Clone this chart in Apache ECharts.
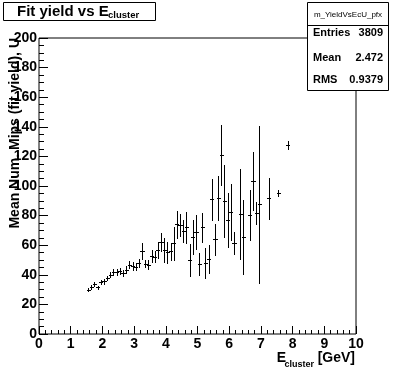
<!DOCTYPE html>
<html>
<head>
<meta charset="utf-8">
<script src="https://cdn.jsdelivr.net/npm/echarts@6/dist/echarts.min.js"></script>
<style>
html,body{margin:0;padding:0;background:#fff;}
#chart{width:396px;height:372px;}
</style>
</head>
<body>
<div id="chart"></div>
<script>
// ---- data ----
var binCenters = [1.55,1.65,1.75,1.85,1.95,2.05,2.15,2.25,2.35,2.45,2.55,2.65,2.75,2.85,2.95,3.05,3.15,3.25,3.35,3.45,3.55,3.65,3.75,3.85,3.95,4.05,4.15,4.25,4.35,4.45,4.55,4.65,4.75,4.85,4.95,5.05,5.15,5.25,5.35,5.45,5.55,5.65,5.75,5.85,5.95,6.05,6.15,6.35,6.45,6.65,6.75,6.85,6.95,7.25,7.55,7.85];
var meanValues = [30,32,34,31.5,35,35.5,38,40,41.7,41.7,42.8,41.4,43.5,46.8,46,45.5,48,56,47.5,46.8,52.7,52.3,56.8,62,56.8,55.3,55.8,61.3,74,73.6,69.4,72,50,65.8,68.7,47.3,72,47.8,50.5,91,64,91.7,121,89.9,77,82.2,61.3,80.9,65.3,80.2,103.3,81.5,87.6,91.7,95,127.7];
var errValues = [1,1.3,1.3,1.2,1.5,1.5,1.5,1.8,2,2,2,2,2.5,2.5,2.5,2.5,2.5,5.5,2.5,3,4,3.5,5.5,6,8,7,6,11,9,7.5,7.5,10.5,10.5,11.5,11.5,7.5,10,10,9.5,14,10.5,15,20.5,24.5,18,19,7.5,30.5,25,17,19.5,7.5,53,14,2,3];
var binHalfWidth = 0.05;
var xTicks = [0,1,2,3,4,5,6,7,8,9,10];
var yTicks = [0,20,40,60,80,100,120,140,160,180,200];
var statNames = ['Entries','Mean','RMS'];
var statValues = ['3809','2.472','0.9379'];
var histName = 'm_YieldVsEcU_pfx';

var seriesData = binCenters.map(function(x,i){ return [x, meanValues[i], errValues[i]]; });

var FONT = '"Liberation Sans", Arial, Helvetica, sans-serif';
var chart = echarts.init(document.getElementById('chart'), null, {renderer:'canvas'});

function snap(v){ return Math.round(v) + 0.5; }

var option = {
  backgroundColor: '#fff',
  animation: false,
  grid: {left:39, top:38, right:40, bottom:38, show:true, borderColor:'#000', borderWidth:1, backgroundColor:'transparent', containLabel:false, outerBoundsMode:'none'},
  xAxis: {
    type:'value', min:xTicks[0], max:xTicks[xTicks.length-1], interval:1,
    axisLine:{show:false},
    axisTick:{show:true, inside:true, length:8, lineStyle:{color:'#000', width:1}},
    minorTick:{show:true, splitNumber:5, length:4, lineStyle:{color:'#000', width:1}},
    splitLine:{show:false}, minorSplitLine:{show:false},
    axisLabel:{show:true, color:'#000', fontFamily:FONT, fontWeight:'bold', fontSize:14, margin:3, showMinLabel:true, showMaxLabel:true}
  },
  yAxis: {
    type:'value', min:yTicks[0], max:yTicks[yTicks.length-1], interval:20,
    axisLine:{show:false},
    axisTick:{show:true, inside:true, length:9, lineStyle:{color:'#000', width:1}},
    minorTick:{show:true, splitNumber:4, length:5, lineStyle:{color:'#000', width:1}},
    splitLine:{show:false}, minorSplitLine:{show:false},
    axisLabel:{show:true, color:'#000', fontFamily:FONT, fontWeight:'bold', fontSize:14, margin:2, showMinLabel:true, showMaxLabel:true}
  },
  series: [{
    type:'custom',
    data: seriesData,
    renderItem: function(params, api){
      var x = api.value(0), y = api.value(1), e = api.value(2);
      var pl = api.coord([x - binHalfWidth, y]);
      var pr = api.coord([x + binHalfWidth, y]);
      var pt = api.coord([x, y + e]);
      var pb = api.coord([x, y - e]);
      var cx = snap(pt[0]), cy = snap(pl[1]);
      return {
        type:'group',
        children:[
          {type:'line', shape:{x1:Math.round(pl[0]), y1:cy, x2:Math.round(pr[0])+1, y2:cy}, style:{stroke:'#000', lineWidth:1}},
          {type:'line', shape:{x1:cx, y1:Math.round(pt[1]), x2:cx, y2:Math.round(pb[1])+1}, style:{stroke:'#000', lineWidth:1}}
        ]
      };
    }
  }],
  graphic: [
    // title box
    {type:'rect', z:100, shape:{x:3.5, y:2.5, width:152, height:18}, style:{fill:'#fff', stroke:'#000', lineWidth:1}},
    {type:'text', z:101, x:17, y:11.5, style:{text:'Fit yield vs E', fill:'#000', font:'bold 15px ' + FONT, textAlign:'left', textVerticalAlign:'middle'}},
    {type:'text', z:101, x:108, y:15.5, style:{text:'cluster', fill:'#000', font:'bold 9.5px ' + FONT, textAlign:'left', textVerticalAlign:'middle'}},
    // stats box
    {type:'rect', z:100, shape:{x:307.5, y:2.5, width:81, height:88}, style:{fill:'#fff', stroke:'#000', lineWidth:1}},
    {type:'line', z:101, shape:{x1:307.5, y1:25.5, x2:388.5, y2:25.5}, style:{stroke:'#000', lineWidth:1}},
    {type:'text', z:101, x:348, y:14.5, style:{text:histName, fill:'#000', font:'8px ' + FONT, textAlign:'center', textVerticalAlign:'middle'}},
    {type:'text', z:101, x:313, y:33, style:{text:statNames[0], fill:'#000', font:'bold 11px ' + FONT, textAlign:'left', textVerticalAlign:'middle'}},
    {type:'text', z:101, x:383, y:33, style:{text:statValues[0], fill:'#000', font:'bold 11px ' + FONT, textAlign:'right', textVerticalAlign:'middle'}},
    {type:'text', z:101, x:313, y:58, style:{text:statNames[1], fill:'#000', font:'bold 11px ' + FONT, textAlign:'left', textVerticalAlign:'middle'}},
    {type:'text', z:101, x:383, y:58, style:{text:statValues[1], fill:'#000', font:'bold 11px ' + FONT, textAlign:'right', textVerticalAlign:'middle'}},
    {type:'text', z:101, x:313, y:79.5, style:{text:statNames[2], fill:'#000', font:'bold 11px ' + FONT, textAlign:'left', textVerticalAlign:'middle'}},
    {type:'text', z:101, x:383, y:79.5, style:{text:statValues[2], fill:'#000', font:'bold 11px ' + FONT, textAlign:'right', textVerticalAlign:'middle'}},
    // y axis title
    {type:'text', z:50, x:15, y:38, rotation:Math.PI/2, style:{text:'Mean Num. Mips (fit yield), U', fill:'#000', font:'bold 14px ' + FONT, textAlign:'right', textVerticalAlign:'middle'}},
    // x axis title
    {type:'text', z:50, x:355, y:358, style:{text:'[GeV]', fill:'#000', font:'bold 14px ' + FONT, textAlign:'right', textVerticalAlign:'middle'}},
    {type:'text', z:50, x:314, y:364.5, style:{text:'cluster', fill:'#000', font:'bold 9px ' + FONT, textAlign:'right', textVerticalAlign:'middle'}},
    {type:'text', z:50, x:286, y:358, style:{text:'E', fill:'#000', font:'bold 14px ' + FONT, textAlign:'right', textVerticalAlign:'middle'}}
  ]
};
chart.setOption(option);
</script>
</body>
</html>
